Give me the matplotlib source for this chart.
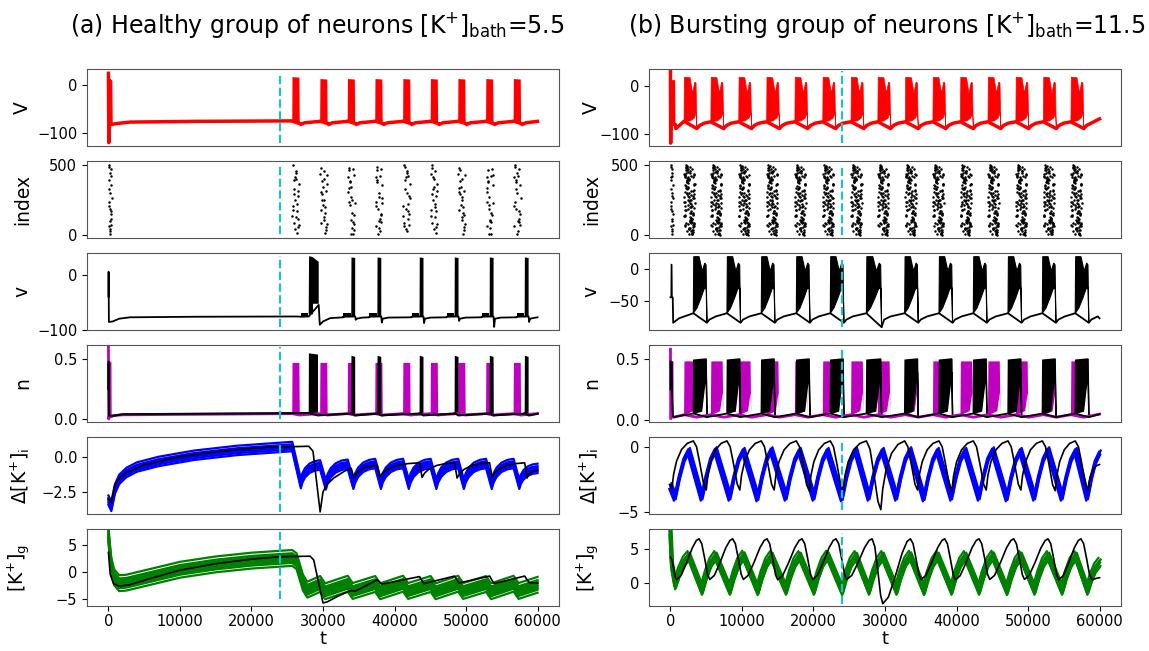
import matplotlib.pyplot as plt

T_END = 60000
T_MARK = 24000          # dashed marker time

# ---------------- (a) healthy group, [K+]bath = 5.5 ----------------
red_on_a = [25700, 29600, 33450, 37300, 41200, 45050, 48900, 52800, 56650]   # population bursts
red_top_a = [17, 13, 13, 13, 13, 13, 13, 13, 13]
blk_on_a = [28000, 33950, 37600, 43500, 48400, 53300, 58200]                 # single neuron bursts
blk_dip_a = [-91, -82, -87, -88, -84, -95, -86]

V_start_t_a = [0, 50, 120, 300, 360, 1200, 3000, 12000, 25650]
V_start_a = [25, -120, 10, 8, -82, -80, -77, -75.5, -74.5]
v_start_t_a = [0, 20, 60, 600, 1500, 3000, 12000, 26300]
v_start_a = [-40, 5, -86, -85, -80, -77.5, -76.5, -76]

n_start_t_a = [0, 40, 90, 450, 500, 2000, 25650]
n_start_a = [0.6, 0.0, 0.02, 0.02, 0.028, 0.035, 0.045]
n1_start_t_a = [0, 30, 80, 500, 2000, 27950]
n1_start_a = [0.25, 0.48, 0.03, 0.025, 0.04, 0.05]

dKi_start_t_a = [0, 400, 900, 1500, 2500, 4000, 7000, 12000, 18000, 25700]
dKi_start_a = [-3.1, -3.55, -2.3, -1.6, -1.1, -0.7, -0.3, 0.15, 0.5, 0.78]
dKi_peak_a = [0.78, -0.55, -0.5, -0.45, -0.45, -0.45, -0.45, -0.45, -0.45]
dKi_trough_a = [-1.9, -2.0, -1.95, -1.95, -1.95, -1.95, -1.95, -1.95, -1.95]
dKi1_t_a = [0, 400, 900, 1500, 2500, 5000, 10000, 16000, 22000, 28000, 28600,
            29600, 30000, 30500, 31500, 33000, 33950]
dKi1_a = [-3.0, -3.3, -2.0, -1.5, -1.1, -0.55, 0.05, 0.45, 0.72, 0.8, 0.45,
          -3.95, -2.5, -2.0, -1.5, -1.0, -0.8]
dKi1_peak_a = [-0.8, -0.6, -0.4, -0.4, -0.4, -0.4]
dKi1_trough_a = [-1.45, -1.4, -1.45, -1.5, -1.45, -1.5]

Kg_start_t_a = [0, 150, 400, 800, 1500, 2500, 5000, 10000, 15000, 20000, 25700,
                26300, 27200, 27800]
Kg_start_a = [7.0, 4.5, 1.2, -1.0, -2.1, -2.0, -1.2, 0.4, 1.4, 2.1, 2.6, 2.0, -2.0, -3.3]
Kg_peak_a = [-2.25, -2.2, -2.25, -2.2, -2.25, -2.2, -2.25, -2.2]
Kg_trough_a = [-3.6, -3.55, -3.6, -3.55, -3.6, -3.55, -3.6, -3.55]
Kg1_t_a = [0, 250, 700, 1500, 3000, 6000, 10000, 15000, 20000, 24000, 28200,
           28700, 29300, 30000, 30600, 32000, 33500]
Kg1_a = [3.6, -0.5, -2.2, -2.7, -2.4, -1.2, 0.3, 1.5, 2.35, 2.8, 2.9, 2.2, -1.5,
         -5.8, -5.6, -4.6, -3.7]
Kg1_peak_a = [-3.5, -1.5, -0.9, -0.8, -0.8, -0.8]
Kg1_trough_a = [-3.6, -2.3, -2.2, -2.1, -2.2, -2.0]

# ---------------- (b) bursting group, [K+]bath = 11.5 ----------------
red_on_b = [1900, 5650, 9550, 13450, 17400, 21300, 25250, 29000, 32850, 36700,
            40550, 44400, 48300, 52150, 56000]
blk_on_b = [3200, 7900, 12700, 17600, 22350, 27400, 32750, 37550, 42350, 47200,
            52000, 56600]
blk_len_b = [1.0, 1.0, 1.0, 1.0, 1.0, 1.12, 1.0, 1.0, 1.0, 1.0, 1.0, 1.0]

# one burst of the population voltage, relative to its onset
V_up_t_b = [0, 50, 850, 1200, 1500, 1680, 1800]
V_up_b = [-74, 18, 17, -15, 8, 6, -88]
V_lo_t_b = [1700, 1450, 900, 0]
V_lo_b = [-55, -66, -72, -74]
# one burst of the single neuron voltage
v_up_t_b = [0, 60, 800, 1250, 1600, 1780, 1900]
v_up_b = [-70, 19, 19, -4, 9, 6, -85]
v_lo_t_b = [1800, 1500, 1100, 500, 0]
v_lo_b = [-30, -32, -45, -62, -70]
v_dip_b = [-85, -85, -85, -85, -85, -92, -85, -85, -85, -85, -85, -85]
# gating variable n during a burst
n_up_t_b = [0, 60, 1650, 1750]
n_up_b = [0.04, 0.48, 0.48, 0.03]
n_lo_t_b = [1650, 1300, 600, 0]
n_lo_b = [0.22, 0.07, 0.05, 0.04]
n1_up_t_b = [0, 60, 1800, 1900]
n1_up_b = [0.05, 0.49, 0.5, 0.02]
n1_lo_t_b = [1800, 1500, 1150, 0]
n1_lo_b = [0.39, 0.25, 0.07, 0.05]

dKi_peak_b = [-0.3, -0.25, -0.3, -0.25, -0.3, -0.3, -0.25, -0.3, -0.25, -0.3,
              -0.3, -0.25, -0.3, -0.25, -0.3]
dKi_trough_b = [-3.9, -3.9, -3.95, -3.9, -3.9, -3.95, -3.9, -3.9, -3.95, -3.9,
                -3.9, -3.95, -3.9, -3.9, -3.9]
dKi1_trough_b = [-3.3, -3.3, -3.3, -3.35, -3.3, -4.8, -3.3, -3.35, -3.3, -3.3,
                 -3.35, -3.3]
Kg_peak_b = [4.0, 4.0, 4.05, 4.0, 4.0, 4.05, 4.0, 4.0, 4.05, 4.0, 4.0, 4.05, 4.0,
             4.0, 4.0]
Kg_trough_b = [-1.0, -1.0, -1.05, -1.0, -1.0, -1.05, -1.0, -1.0, -1.05, -1.0,
               -1.0, -1.05, -1.0, -1.0, -1.0]
Kg1_trough_b = [0.55, 0.55, 0.5, 0.55, 0.55, -3.0, 0.55, 0.5, 0.55, 0.55, 0.5, 0.55]

# raster: neuron indices and spike phases inside a burst window
SPK_IDX = [12, 471, 236, 98, 355, 187, 420, 64, 301, 149, 488, 27, 262, 392, 118,
           205, 446, 73, 330, 169, 497, 43, 281, 412, 136, 221, 365, 88, 459, 15,
           247, 318, 176, 403, 57, 292, 129, 437, 199, 344, 81, 478, 254, 36, 383,
           161, 310, 107, 426, 215, 5, 339, 274, 141, 465, 52, 228, 376, 94, 415]
SPK_PHASE = [0.42, 0.77, 0.13, 0.58, 0.91, 0.35, 0.66, 0.08, 0.49, 0.84, 0.22, 0.61,
             0.97, 0.31, 0.74, 0.05, 0.53, 0.88, 0.27, 0.69, 0.16, 0.45, 0.81, 0.38,
             0.02, 0.63, 0.94, 0.19, 0.56, 0.72, 0.33, 0.86, 0.11, 0.47, 0.79, 0.25,
             0.59, 0.03, 0.68, 0.41, 0.92, 0.17, 0.54, 0.83, 0.29, 0.64, 0.07, 0.51,
             0.95, 0.36, 0.71, 0.14, 0.48, 0.87, 0.24, 0.60, 0.99, 0.32, 0.76, 0.10]

# how a stretch between two turning points bends: (time fraction, value fraction)
BEND = {
    'lin': [],
    'recover': [(0.08, 0.3), (0.22, 0.58), (0.45, 0.82), (0.72, 0.95)],
    'rise': [(0.3, 0.42), (0.65, 0.8)],
    'ease': [(0.2, 0.1), (0.45, 0.42), (0.7, 0.78), (0.88, 0.96)],
    'fall': [(0.25, 0.12), (0.5, 0.45), (0.8, 0.88)],
}


def curve(pts):
    """pts = [(t, value, bend of the stretch ending here), ...]"""
    t, y = [pts[0][0]], [pts[0][1]]
    for (t0, y0, _), (t1, y1, bend) in zip(pts[:-1], pts[1:]):
        for ft, fy in BEND[bend]:
            t.append(t0 + ft * (t1 - t0))
            y.append(y0 + fy * (y1 - y0))
        t.append(t1)
        y.append(y1)
    return t, y


def band(ax, t, y, dys, dts, color, lw):
    for dy, dt in zip(dys, dts):
        ax.plot([v + dt for v in t], [v + dy for v in y], color=color, lw=lw)


def raster(ax, starts, widths, counts, shift):
    xs, ys = [], []
    for k, (s, w, n) in enumerate(zip(starts, widths, counts)):
        for j in range(n):
            p = (k * shift + j) % len(SPK_IDX)
            idx, ph = SPK_IDX[p], SPK_PHASE[p]
            if (j // len(SPK_IDX)) % 2:      # second pass through the list is mirrored
                idx, ph = 500 - idx, 1 - ph
            xs.append(s + ph * w)
            ys.append(idx)
    ax.plot(xs, ys, 'o', color='k', ms=1.8, mew=0)
    return ys


def mark(ax, ys):
    ax.vlines(T_MARK, min(ys), max(ys), colors='#1fc0cc', linestyles='--', lw=1.6, zorder=5)


def nxt(lst, i, last):
    return lst[i + 1] if i + 1 < len(lst) else last


fig = plt.figure(figsize=(11.49, 6.51), dpi=100)
tops = [69, 161, 253, 345, 437, 529]
axA = [fig.add_axes([87 / 1149, 1 - (tp + 77) / 651, 472 / 1149, 77 / 651]) for tp in tops]
axB = [fig.add_axes([649 / 1149, 1 - (tp + 77) / 651, 472 / 1149, 77 / 651]) for tp in tops]

# ===================== (a) healthy =====================
# population voltage
ax = axA[0]
t, y = list(V_start_t_a), list(V_start_a)
for i, b in enumerate(red_on_a):
    ax.fill([b, b + 40, b + 1000, b + 1050], [-77, red_top_a[i], red_top_a[i] - 1, -80],
            color='r', lw=0)
    t += [b, b + 1050, b + 1200, b + 1700, nxt(red_on_a, i, T_END + 60) - 60]
    y += [-75, -80, -82, -78.5, -75.5]
ax.plot(t, y, color='r', lw=2.5)
mark(ax, y)

# raster
ax = axA[1]
ys = raster(ax, [0] + red_on_a, [450] + [1000] * 9, [22] + [24] * 9, 13)
mark(ax, ys)

# single neuron voltage
ax = axA[2]
t, y = list(v_start_t_a), list(v_start_a)
for i, b in enumerate(blk_on_a):
    ax.fill([b - 1100, b - 1100, b - 100, b - 100], [-76, -69, -69, -76], color='k', lw=0)
    last = i + 1 == len(blk_on_a)
    if i == 0:
        w = 1400
        ax.fill([b, b + 50, b + 500, b + w, b + w, b + 600, b + 600, b],
                [-72, 33, 32, 23, -53, -53, -72, -72], color='k', lw=0)
        t += [b - 1100, b, b + w, b + w + 150, b + w + 600, b + w + 1600, 32850]
        y += [-76.5, -76, -55, blk_dip_a[i], -85, -79, -77.5]
    else:
        w = 550
        ax.fill([b, b + 30, b + w, b + w], [-76, 31, 30, -76], color='k', lw=0)
        t += [b - 1100, b + w, b + w + 80, b + w + 200, b + w + 1000]
        y += [-76.5, -76, blk_dip_a[i], -80, -78]
        t.append(T_END if last else blk_on_a[i + 1] - 1150)
        y.append(-77.5)
ax.plot(t, y, color='k', lw=1.3)
mark(ax, y + [33])

# gating variable n
ax = axA[3]
ax.fill([100, 130, 420, 450], [0.02, 0.48, 0.48, 0.02], color='m', lw=0)
t, y = list(n_start_t_a), list(n_start_a)
for i, b in enumerate(red_on_a):
    ax.fill([b, b + 40, b + 1000, b + 1050], [0.045, 0.47, 0.47, 0.035], color='m', lw=0)
    t += [b, b + 1050, b + 1300, nxt(red_on_a, i, T_END + 50) - 50]
    y += [0.045, 0.033, 0.035, 0.045]
ax.plot(t, y, color='m', lw=2)
yn = list(y)
t, y = list(n1_start_t_a), list(n1_start_a)
for i, b in enumerate(blk_on_a):
    w = 1300 if i == 0 else 550
    top = 0.55 if i == 0 else 0.53
    ax.fill([b, b + 30, b + w, b + w], [0.05, top, top - 0.01, 0.04], color='k', lw=0)
    t += [b, b + w, b + w + 300, nxt(blk_on_a, i, T_END + 50) - 50]
    y += [0.05, 0.03, 0.032, 0.045]
ax.plot(t, y, color='k', lw=1.5)
mark(ax, yn + y + [0.55])

# intracellular potassium
ax = axA[4]
pts = [(tt, vv, 'lin') for tt, vv in zip(dKi_start_t_a, dKi_start_a)]
for i, b in enumerate(red_on_a):
    if i > 0:
        pts.append((b, dKi_peak_a[i], 'recover'))
    pts.append((b + (1200 if i == 0 else 800), dKi_trough_a[i], 'lin'))
pts.append((T_END, -0.8, 'recover'))
t, y = curve(pts)
band(ax, t, y, [-0.34, -0.2, -0.08, 0.04, 0.16, 0.34], [0] * 6, 'b', 1.6)
pts = [(tt, vv, 'lin') for tt, vv in zip(dKi1_t_a, dKi1_a)]
for i, b in enumerate(blk_on_a[1:]):
    pts.append((b + 350, dKi1_trough_a[i], 'lin'))
    if i + 2 < len(blk_on_a):
        pts.append((blk_on_a[i + 2], dKi1_peak_a[i + 1], 'recover'))
pts.append((T_END, -0.95, 'recover'))
t1, y1 = curve(pts)
ax.plot(t1, y1, color='k', lw=1.2)
mark(ax, [v + 0.34 for v in y] + y1)

# glial potassium
ax = axA[5]
pts = [(tt, vv, 'lin') for tt, vv in zip(Kg_start_t_a, Kg_start_a)]
for i, b in enumerate(red_on_a[1:]):
    pts.append((b, Kg_peak_a[i], 'lin'))
    pts.append((b + 700, Kg_trough_a[i], 'lin'))
pts.append((T_END, -2.4, 'lin'))
t, y = curve(pts)
band(ax, t, y, [-1.5, -0.95, -0.65, -0.35, -0.05, 0.25, 0.55, 0.85, 1.45], [0] * 9, 'g', 1.6)
pts = [(tt, vv, 'lin') for tt, vv in zip(Kg1_t_a, Kg1_a)]
for i, b in enumerate(blk_on_a[1:]):
    pts.append((b, Kg1_peak_a[i], 'lin'))
    pts.append((b + 600, Kg1_trough_a[i], 'lin'))
pts.append((T_END, -2.1, 'lin'))
t1, y1 = curve(pts)
ax.plot(t1, y1, color='k', lw=1.2)
mark(ax, [v + 1.45 for v in y] + [v - 1.5 for v in y])

# ===================== (b) bursting =====================
ax = axB[0]
ax.fill([60, 90, 650, 700], [-78, 12, 12, -80], color='r', lw=0)
t = [0, 30, 60, 700, 760, 1300, red_on_b[0]]
y = [30, -118, -78, -80, -88, -81, -73]
for i, b in enumerate(red_on_b):
    ax.fill([b + r for r in V_up_t_b + V_lo_t_b], V_up_b + V_lo_b, color='r', lw=0.5)
    last = i + 1 == len(red_on_b)
    e = b + V_up_t_b[-1]
    t += [e, e + 350, e + 1000, T_END if last else red_on_b[i + 1]]
    y += [-88, -82, -77, -68 if last else -74]
ax.plot(t, y, color='r', lw=2.5)
mark(ax, y)

ax = axB[1]
ys = raster(ax, [0] + red_on_b, [350] + [1500] * 15, [24] + [115] * 15, 23)
mark(ax, ys)

ax = axB[2]
ax.fill([0, 30, 280, 320], [-45, 8, 7, -45], color='k', lw=0)
t = [0, 320, 380, 1200, blk_on_b[0]]
y = [-45, -45, -85, -78, -70]
for i, b in enumerate(blk_on_b):
    s = blk_len_b[i]
    up_v = v_up_b[:-1] + [v_dip_b[i]]
    ax.fill([b + s * r for r in v_up_t_b + v_lo_t_b], up_v + v_lo_b,
            facecolor='k', edgecolor='k', lw=0.8)
    last = i + 1 == len(blk_on_b)
    e = b + s * v_up_t_b[-1]
    t += [e, e + 350, e + 1250, T_END if last else blk_on_b[i + 1]]
    y += [v_dip_b[i], -80, -75, -78 if last else -70]
ax.plot(t, y, color='k', lw=1.3)
mark(ax, y + [19])

ax = axB[3]
ax.plot([0, 30], [0.58, 0.01], color='m', lw=2)
ax.fill([30, 70, 420, 450], [0.02, 0.48, 0.48, 0.02], color='m', lw=0)
t = [450, 500, red_on_b[0]]
y = [0.02, 0.02, 0.04]
for i, b in enumerate(red_on_b):
    ax.fill([b + r for r in n_up_t_b + n_lo_t_b], n_up_b + n_lo_b, color='m', lw=0)
    last = i + 1 == len(red_on_b)
    e = b + n_up_t_b[-1]
    t += [e, e + 100, T_END if last else red_on_b[i + 1]]
    y += [0.02, 0.02, 0.045 if last else 0.04]
ax.plot(t, y, color='m', lw=2)
ax.fill([0, 20, 320, 350], [0.03, 0.48, 0.48, 0.03], color='k', lw=0)
t = [0, 20, 350, 400, blk_on_b[0]]
y = [0.25, 0.48, 0.03, 0.02, 0.05]
for i, b in enumerate(blk_on_b):
    s = blk_len_b[i]
    ax.fill([b + s * r for r in n1_up_t_b + n1_lo_t_b], n1_up_b + n1_lo_b,
            facecolor='k', edgecolor='k', lw=1)
    last = i + 1 == len(blk_on_b)
    t += [b + s * n1_up_t_b[-1], T_END if last else blk_on_b[i + 1]]
    y += [0.02, 0.045 if last else 0.05]
ax.plot(t, y, color='k', lw=1.3)
mark(ax, y + [0.5, 0.58])

ax = axB[4]
pts = [(0, -3.0, 'lin'), (650, -3.9, 'lin')]
for i, b in enumerate(red_on_b):
    pts.append((b + 650, dKi_peak_b[i], 'rise'))
    pts.append((58300 if i + 1 == len(red_on_b) else red_on_b[i + 1] - 1250,
                dKi_trough_b[i], 'lin'))
pts.append((T_END, -0.5, 'rise'))
t, y = curve(pts)
band(ax, t, y, [-0.22, -0.11, 0, 0.11, 0.22], [-160, 80, 0, -80, 160], 'b', 1.6)
pts = [(0, -2.9, 'lin'), (200, -3.2, 'lin')]
for i, b in enumerate(blk_on_b):
    pts.append((b, 0.45, 'recover'))
    pts.append((b + 1800 * blk_len_b[i], dKi1_trough_b[i], 'fall'))
pts.append((T_END, -1.35, 'recover'))
t1, y1 = curve(pts)
ax.plot(t1, y1, color='k', lw=1.2)
mark(ax, y1 + [v - 0.22 for v in y])

ax = axB[5]
pts = [(0, 7.3, 'lin'), (200, 2.5, 'lin'), (650, -0.2, 'lin')]
for i, b in enumerate(red_on_b):
    pts.append((b + 650, Kg_peak_b[i], 'rise'))
    pts.append((58300 if i + 1 == len(red_on_b) else red_on_b[i + 1] - 1250,
                Kg_trough_b[i], 'lin'))
pts.append((T_END, 3.0, 'rise'))
t, y = curve(pts)
band(ax, t, y, [-0.7, -0.47, -0.23, 0, 0.23, 0.47, 0.7],
     [0, 120, -120, 60, -60, 160, -160], 'g', 1.6)
pts = [(0, 3.8, 'lin'), (850, 0.5, 'fall')]
for i, b in enumerate(blk_on_b):
    pts.append((b + 800, 6.5, 'ease'))
    pts.append((b + 2300, Kg1_trough_b[i], 'fall'))
pts.append((T_END, 0.8, 'ease'))
t1, y1 = curve(pts)
ax.plot(t1, y1, color='k', lw=1.2)
mark(ax, y1 + [v - 0.7 for v in y] + [7.3])

# ===================== axes styling =====================
ylims_a = [(-127, 34), (-20, 528), (-100.5, 39), (-0.025, 0.62), (-4.1, 1.47), (-6.37, 7.96)]
yticks_a = [[0, -100], [0, 500], [0, -100], [0.0, 0.5], [0.0, -2.5], [5, 0, -5]]
ylims_b = [(-124, 35), (-20, 528), (-96.4, 24.8), (-0.02, 0.615), (-5.13, 0.75), (-3.34, 7.94)]
yticks_b = [[0, -100], [0, 500], [0, -50], [0.0, 0.5], [0, -5], [5, 0]]
ylabels = ['V', 'index', 'v', 'n', r'Δ[K$^{+}$]$_{\mathrm{i}}$', r'[K$^{+}$]$_{\mathrm{g}}$']

for col, lims, ticks, lx in [(axA, ylims_a, yticks_a, -0.117), (axB, ylims_b, yticks_b, -0.102)]:
    for k, ax in enumerate(col):
        ax.set_xlim(-3000, 63000)
        ax.set_ylim(*lims[k])
        ax.set_yticks(ticks[k])
        ax.set_ylabel(ylabels[k], fontsize=13.5)
        ax.yaxis.set_label_coords(lx, 0.5)
        ax.tick_params(labelsize=10.5)
        for sp in ax.spines.values():
            sp.set_color('#555555')
        if k < 5:
            ax.set_xticks([])
        else:
            ax.set_xticks([0, 10000, 20000, 30000, 40000, 50000, 60000])
            ax.tick_params(axis='x', pad=2.5)
            ax.set_xlabel('t', fontsize=13)
            ax.xaxis.set_label_coords(0.5, -0.315)

fig.text(0.276, 0.962, r'(a) Healthy group of neurons [K$^{+}$]$_{\mathrm{bath}}$=5.5',
         ha='center', va='center', fontsize=17)
fig.text(0.772, 0.962, r'(b) Bursting group of neurons [K$^{+}$]$_{\mathrm{bath}}$=11.5',
         ha='center', va='center', fontsize=17)

fig.savefig('out.png', dpi=100)
